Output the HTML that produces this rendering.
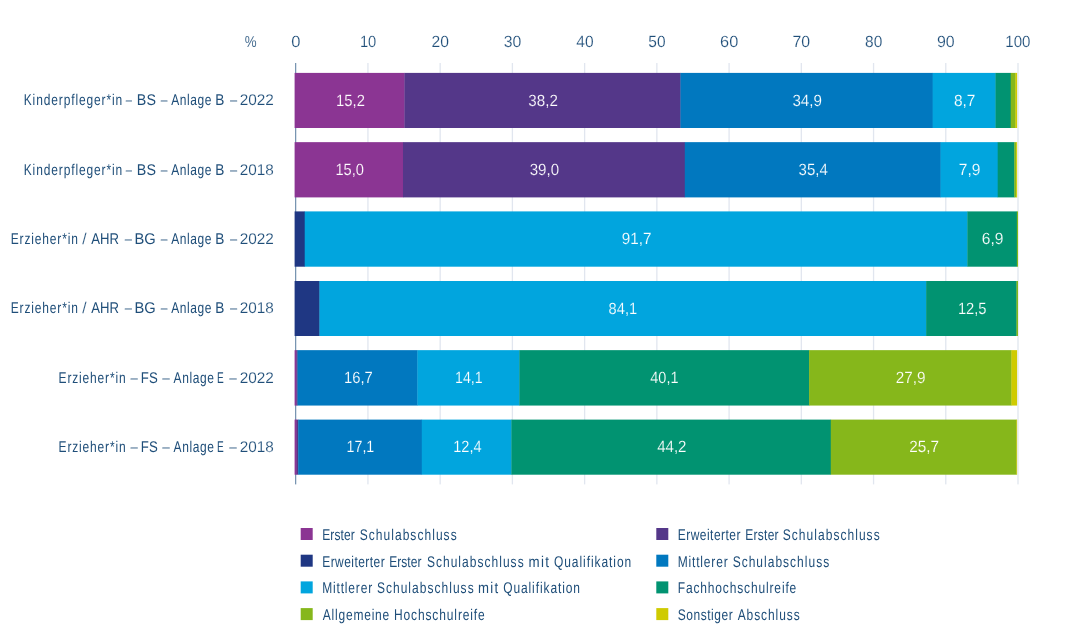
<!DOCTYPE html>
<html><head><meta charset="utf-8"><title>Chart</title>
<style>html,body{margin:0;padding:0;background:#fff;}svg{display:block;opacity:0.999;will-change:transform;font-family:"Liberation Sans",sans-serif;font-size:15px;}</style></head>
<body><svg text-rendering="geometricPrecision" width="1080" height="632" viewBox="0 0 1080 632">
<rect width="1080" height="632" fill="#fff"/>
<rect x="295.05" y="63" width="1.2" height="421.4" fill="#7290ae"/>
<rect x="367.28" y="63" width="1.3" height="421.4" fill="#e1e6ef"/>
<rect x="439.51" y="63" width="1.3" height="421.4" fill="#e1e6ef"/>
<rect x="511.74" y="63" width="1.3" height="421.4" fill="#e1e6ef"/>
<rect x="583.97" y="63" width="1.3" height="421.4" fill="#e1e6ef"/>
<rect x="656.20" y="63" width="1.3" height="421.4" fill="#e1e6ef"/>
<rect x="728.43" y="63" width="1.3" height="421.4" fill="#e1e6ef"/>
<rect x="800.66" y="63" width="1.3" height="421.4" fill="#e1e6ef"/>
<rect x="872.89" y="63" width="1.3" height="421.4" fill="#e1e6ef"/>
<rect x="945.12" y="63" width="1.3" height="421.4" fill="#e1e6ef"/>
<rect x="1017.35" y="63" width="1.3" height="421.4" fill="#e1e6ef"/>
<rect x="294.60" y="72.90" width="110.14" height="55.1" fill="#8b3593"/>
<rect x="404.44" y="72.90" width="276.33" height="55.1" fill="#543789"/>
<rect x="680.47" y="72.90" width="252.49" height="55.1" fill="#0078bf"/>
<rect x="932.66" y="72.90" width="63.17" height="55.1" fill="#00a5de"/>
<rect x="995.52" y="72.90" width="15.47" height="55.1" fill="#009371"/>
<rect x="1010.70" y="72.90" width="5.00" height="55.1" fill="#86b71b"/>
<rect x="1015.39" y="72.90" width="1.71" height="55.1" fill="#cfcb00"/>
<rect x="294.60" y="142.15" width="108.69" height="55.25" fill="#8b3593"/>
<rect x="402.99" y="142.15" width="282.11" height="55.25" fill="#543789"/>
<rect x="684.80" y="142.15" width="256.10" height="55.25" fill="#0078bf"/>
<rect x="940.60" y="142.15" width="57.39" height="55.25" fill="#00a5de"/>
<rect x="997.69" y="142.15" width="16.92" height="55.25" fill="#009371"/>
<rect x="1014.31" y="142.15" width="2.11" height="55.25" fill="#86b71b"/>
<rect x="1016.12" y="142.15" width="0.98" height="55.25" fill="#cfcb00"/>
<rect x="294.60" y="211.40" width="10.42" height="55.3" fill="#1f3783"/>
<rect x="304.72" y="211.40" width="662.92" height="55.3" fill="#00a5de"/>
<rect x="967.34" y="211.40" width="49.80" height="55.3" fill="#009371"/>
<rect x="1016.84" y="211.40" width="1.16" height="55.3" fill="#86b71b"/>
<rect x="294.60" y="281.00" width="25.16" height="55.0" fill="#1f3783"/>
<rect x="319.46" y="281.00" width="606.99" height="55.0" fill="#00a5de"/>
<rect x="926.15" y="281.00" width="90.62" height="55.0" fill="#009371"/>
<rect x="1016.48" y="281.00" width="1.52" height="55.0" fill="#86b71b"/>
<rect x="294.60" y="350.15" width="2.11" height="55.4" fill="#8b3593"/>
<rect x="296.41" y="350.15" width="1.38" height="55.4" fill="#543789"/>
<rect x="297.49" y="350.15" width="120.25" height="55.4" fill="#0078bf"/>
<rect x="417.44" y="350.15" width="102.19" height="55.4" fill="#00a5de"/>
<rect x="519.33" y="350.15" width="290.06" height="55.4" fill="#009371"/>
<rect x="809.09" y="350.15" width="202.63" height="55.4" fill="#86b71b"/>
<rect x="1011.42" y="350.15" width="5.68" height="55.4" fill="#cfcb00"/>
<rect x="294.60" y="419.60" width="2.32" height="55.1" fill="#8b3593"/>
<rect x="296.62" y="419.60" width="1.89" height="55.1" fill="#543789"/>
<rect x="298.21" y="419.60" width="123.86" height="55.1" fill="#0078bf"/>
<rect x="421.78" y="419.60" width="89.90" height="55.1" fill="#00a5de"/>
<rect x="511.38" y="419.60" width="319.69" height="55.1" fill="#009371"/>
<rect x="830.77" y="419.60" width="186.01" height="55.1" fill="#86b71b"/>
<rect x="1016.48" y="419.60" width="0.62" height="55.1" fill="#cfcb00"/>
<text transform="translate(336.09,106.00) scale(0.9866,1.08)" fill="#fff" stroke="#8b3593" stroke-width="0.15">15,2</text>
<text transform="translate(528.30,106.00) scale(1.0120,1.08)" fill="#fff" stroke="#543789" stroke-width="0.15">38,2</text>
<text transform="translate(792.41,106.00) scale(1.0093,1.08)" fill="#fff" stroke="#0078bf" stroke-width="0.15">34,9</text>
<text transform="translate(953.90,106.00) scale(1.0326,1.08)" fill="#fff" stroke="#00a5de" stroke-width="0.15">8,7</text>
<text transform="translate(335.38,175.00) scale(0.9786,1.08)" fill="#fff" stroke="#8b3593" stroke-width="0.15">15,0</text>
<text transform="translate(529.75,175.00) scale(1.0039,1.08)" fill="#fff" stroke="#543789" stroke-width="0.15">39,0</text>
<text transform="translate(798.56,175.00) scale(0.9986,1.08)" fill="#fff" stroke="#0078bf" stroke-width="0.15">35,4</text>
<text transform="translate(958.80,175.00) scale(1.0366,1.08)" fill="#fff" stroke="#00a5de" stroke-width="0.15">7,9</text>
<text transform="translate(621.72,244.00) scale(1.0175,1.08)" fill="#fff" stroke="#00a5de" stroke-width="0.15">91,7</text>
<text transform="translate(981.74,244.00) scale(1.0366,1.08)" fill="#fff" stroke="#009371" stroke-width="0.15">6,9</text>
<text transform="translate(608.60,314.00) scale(0.9762,1.08)" fill="#fff" stroke="#00a5de" stroke-width="0.15">84,1</text>
<text transform="translate(957.89,314.00) scale(0.9812,1.08)" fill="#fff" stroke="#009371" stroke-width="0.15">12,5</text>
<text transform="translate(344.04,383.00) scale(0.9866,1.08)" fill="#fff" stroke="#0078bf" stroke-width="0.15">16,7</text>
<text transform="translate(455.00,383.00) scale(0.9474,1.08)" fill="#fff" stroke="#00a5de" stroke-width="0.15">14,1</text>
<text transform="translate(650.30,383.00) scale(0.9658,1.08)" fill="#fff" stroke="#009371" stroke-width="0.15">40,1</text>
<text transform="translate(895.87,383.00) scale(1.0175,1.08)" fill="#fff" stroke="#86b71b" stroke-width="0.15">27,9</text>
<text transform="translate(346.61,452.00) scale(0.9474,1.08)" fill="#fff" stroke="#0078bf" stroke-width="0.15">17,1</text>
<text transform="translate(453.17,452.00) scale(0.9733,1.08)" fill="#fff" stroke="#00a5de" stroke-width="0.15">12,4</text>
<text transform="translate(657.16,452.00) scale(1.0039,1.08)" fill="#fff" stroke="#009371" stroke-width="0.15">44,2</text>
<text transform="translate(909.24,452.00) scale(1.0202,1.08)" fill="#fff" stroke="#86b71b" stroke-width="0.15">25,7</text>
<text transform="translate(244.87,47.00) scale(0.8890,1.06)" fill="#1f4e79" stroke="#fff" stroke-width="0.15">%</text>
<text transform="translate(291.22,47.00) scale(1.1021,1.08)" fill="#1f4e79" stroke="#fff" stroke-width="0.15">0</text>
<text transform="translate(359.91,47.00) scale(0.9823,1.08)" fill="#1f4e79" stroke="#fff" stroke-width="0.15">10</text>
<text transform="translate(431.51,47.00) scale(1.0429,1.08)" fill="#1f4e79" stroke="#fff" stroke-width="0.15">20</text>
<text transform="translate(503.77,47.00) scale(1.0535,1.08)" fill="#1f4e79" stroke="#fff" stroke-width="0.15">30</text>
<text transform="translate(576.24,47.00) scale(1.0385,1.08)" fill="#1f4e79" stroke="#fff" stroke-width="0.15">40</text>
<text transform="translate(648.36,47.00) scale(1.0329,1.08)" fill="#1f4e79" stroke="#fff" stroke-width="0.15">50</text>
<text transform="translate(720.05,47.00) scale(1.0885,1.08)" fill="#1f4e79" stroke="#fff" stroke-width="0.15">60</text>
<text transform="translate(792.55,47.00) scale(1.0559,1.08)" fill="#1f4e79" stroke="#fff" stroke-width="0.15">70</text>
<text transform="translate(865.05,47.00) scale(1.0329,1.08)" fill="#1f4e79" stroke="#fff" stroke-width="0.15">80</text>
<text transform="translate(936.98,47.00) scale(1.0638,1.08)" fill="#1f4e79" stroke="#fff" stroke-width="0.15">90</text>
<text transform="translate(1005.30,47.00) scale(1.0047,1.08)" fill="#1f4e79" stroke="#fff" stroke-width="0.15">100</text>
<text transform="translate(23.74,105.00) scale(0.8000,1.035)" fill="#1f4e79" letter-spacing="1.092">Kinderpfleger*in</text><text transform="translate(125.73,105.00) scale(0.7489,1.035)" fill="#1f4e79" stroke="#fff" stroke-width="0.15">–</text><text transform="translate(136.86,105.00) scale(0.9516,1.035)" fill="#1f4e79">BS</text><text transform="translate(160.73,105.00) scale(0.8090,1.035)" fill="#1f4e79" stroke="#fff" stroke-width="0.15">–</text><text transform="translate(171.20,105.00) scale(0.8000,1.035)" fill="#1f4e79" letter-spacing="0.725">Anlage</text><text transform="translate(215.31,105.00) scale(0.9097,1.035)" fill="#1f4e79">B</text><text transform="translate(230.03,105.00) scale(0.8571,1.035)" fill="#1f4e79" stroke="#fff" stroke-width="0.15">–</text><text transform="translate(239.66,105.00) scale(1.0270,1.035)" fill="#1f4e79" stroke="#fff" stroke-width="0.15">2022</text>
<text transform="translate(23.74,175.00) scale(0.8000,1.035)" fill="#1f4e79" letter-spacing="1.092">Kinderpfleger*in</text><text transform="translate(125.73,175.00) scale(0.7489,1.035)" fill="#1f4e79" stroke="#fff" stroke-width="0.15">–</text><text transform="translate(136.86,175.00) scale(0.9516,1.035)" fill="#1f4e79">BS</text><text transform="translate(160.73,175.00) scale(0.8090,1.035)" fill="#1f4e79" stroke="#fff" stroke-width="0.15">–</text><text transform="translate(171.20,175.00) scale(0.8000,1.035)" fill="#1f4e79" letter-spacing="0.725">Anlage</text><text transform="translate(215.31,175.00) scale(0.9097,1.035)" fill="#1f4e79">B</text><text transform="translate(230.03,175.00) scale(0.8571,1.035)" fill="#1f4e79" stroke="#fff" stroke-width="0.15">–</text><text transform="translate(239.67,175.00) scale(1.0222,1.035)" fill="#1f4e79" stroke="#fff" stroke-width="0.15">2018</text>
<text transform="translate(10.74,244.00) scale(0.8000,1.035)" fill="#1f4e79" letter-spacing="1.062">Erzieher*in</text><text transform="translate(82.33,244.00) scale(1.0321,1.035)" fill="#1f4e79" stroke="#fff" stroke-width="0.15">/</text><text transform="translate(91.30,244.00) scale(0.8749,1.035)" fill="#1f4e79">AHR</text><text transform="translate(124.63,244.00) scale(0.8691,1.035)" fill="#1f4e79" stroke="#fff" stroke-width="0.15">–</text><text transform="translate(134.52,244.00) scale(0.9819,1.035)" fill="#1f4e79">BG</text><text transform="translate(160.73,244.00) scale(0.8090,1.035)" fill="#1f4e79" stroke="#fff" stroke-width="0.15">–</text><text transform="translate(171.20,244.00) scale(0.8000,1.035)" fill="#1f4e79" letter-spacing="0.725">Anlage</text><text transform="translate(215.31,244.00) scale(0.9097,1.035)" fill="#1f4e79">B</text><text transform="translate(230.03,244.00) scale(0.8571,1.035)" fill="#1f4e79" stroke="#fff" stroke-width="0.15">–</text><text transform="translate(239.66,244.00) scale(1.0270,1.035)" fill="#1f4e79" stroke="#fff" stroke-width="0.15">2022</text>
<text transform="translate(10.74,313.00) scale(0.8000,1.035)" fill="#1f4e79" letter-spacing="1.062">Erzieher*in</text><text transform="translate(82.33,313.00) scale(1.0321,1.035)" fill="#1f4e79" stroke="#fff" stroke-width="0.15">/</text><text transform="translate(91.30,313.00) scale(0.8749,1.035)" fill="#1f4e79">AHR</text><text transform="translate(124.63,313.00) scale(0.8691,1.035)" fill="#1f4e79" stroke="#fff" stroke-width="0.15">–</text><text transform="translate(134.52,313.00) scale(0.9819,1.035)" fill="#1f4e79">BG</text><text transform="translate(160.73,313.00) scale(0.8090,1.035)" fill="#1f4e79" stroke="#fff" stroke-width="0.15">–</text><text transform="translate(171.20,313.00) scale(0.8000,1.035)" fill="#1f4e79" letter-spacing="0.725">Anlage</text><text transform="translate(215.31,313.00) scale(0.9097,1.035)" fill="#1f4e79">B</text><text transform="translate(230.03,313.00) scale(0.8571,1.035)" fill="#1f4e79" stroke="#fff" stroke-width="0.15">–</text><text transform="translate(239.67,313.00) scale(1.0222,1.035)" fill="#1f4e79" stroke="#fff" stroke-width="0.15">2018</text>
<text transform="translate(58.54,383.00) scale(0.8000,1.035)" fill="#1f4e79" letter-spacing="1.050">Erzieher*in</text><text transform="translate(130.53,383.00) scale(0.8811,1.035)" fill="#1f4e79" stroke="#fff" stroke-width="0.15">–</text><text transform="translate(140.84,383.00) scale(0.8812,1.035)" fill="#1f4e79">FS</text><text transform="translate(162.23,383.00) scale(0.9051,1.035)" fill="#1f4e79" stroke="#fff" stroke-width="0.15">–</text><text transform="translate(173.60,383.00) scale(0.8000,1.035)" fill="#1f4e79" letter-spacing="0.750">Anlage</text><text transform="translate(217.09,383.00) scale(0.6728,1.035)" fill="#1f4e79">E</text><text transform="translate(229.33,383.00) scale(0.9051,1.035)" fill="#1f4e79" stroke="#fff" stroke-width="0.15">–</text><text transform="translate(239.66,383.00) scale(1.0270,1.035)" fill="#1f4e79" stroke="#fff" stroke-width="0.15">2022</text>
<text transform="translate(58.54,452.00) scale(0.8000,1.035)" fill="#1f4e79" letter-spacing="1.050">Erzieher*in</text><text transform="translate(130.53,452.00) scale(0.8811,1.035)" fill="#1f4e79" stroke="#fff" stroke-width="0.15">–</text><text transform="translate(140.84,452.00) scale(0.8812,1.035)" fill="#1f4e79">FS</text><text transform="translate(162.23,452.00) scale(0.9051,1.035)" fill="#1f4e79" stroke="#fff" stroke-width="0.15">–</text><text transform="translate(173.60,452.00) scale(0.8000,1.035)" fill="#1f4e79" letter-spacing="0.750">Anlage</text><text transform="translate(217.09,452.00) scale(0.6728,1.035)" fill="#1f4e79">E</text><text transform="translate(229.33,452.00) scale(0.9051,1.035)" fill="#1f4e79" stroke="#fff" stroke-width="0.15">–</text><text transform="translate(239.67,452.00) scale(1.0222,1.035)" fill="#1f4e79" stroke="#fff" stroke-width="0.15">2018</text>
<rect x="300.7" y="528.00" width="12.0" height="12.0" fill="#8b3593"/>
<text transform="translate(322.24,540.00) scale(0.8000,1.035)" fill="#1f4e79" letter-spacing="0.100">Erster</text><text transform="translate(359.66,540.00) scale(0.8000,1.035)" fill="#1f4e79" letter-spacing="1.309">Schulabschluss</text>
<rect x="300.7" y="554.70" width="12.0" height="12.0" fill="#1f3783"/>
<text transform="translate(322.24,567.00) scale(0.8000,1.035)" fill="#1f4e79" letter-spacing="0.553">Erweiterter</text><text transform="translate(389.24,567.00) scale(0.8000,1.035)" fill="#1f4e79" letter-spacing="0.038">Erster</text><text transform="translate(426.91,567.00) scale(0.8000,1.035)" fill="#1f4e79" letter-spacing="1.285">Schulabschluss</text><text transform="translate(528.58,567.00) scale(0.8894,1.035)" fill="#1f4e79" letter-spacing="1.400">mit</text><text transform="translate(553.91,567.00) scale(0.8000,1.035)" fill="#1f4e79" letter-spacing="1.178">Qualifikation</text>
<rect x="300.7" y="581.40" width="12.0" height="12.0" fill="#00a5de"/>
<text transform="translate(322.24,593.00) scale(0.8000,1.035)" fill="#1f4e79" letter-spacing="1.025">Mittlerer</text><text transform="translate(376.91,593.00) scale(0.8000,1.035)" fill="#1f4e79" letter-spacing="1.285">Schulabschluss</text><text transform="translate(478.09,593.00) scale(0.8779,1.035)" fill="#1f4e79" letter-spacing="1.400">mit</text><text transform="translate(503.16,593.00) scale(0.8000,1.035)" fill="#1f4e79" letter-spacing="1.126">Qualifikation</text>
<rect x="300.7" y="608.10" width="12.0" height="12.0" fill="#86b71b"/>
<text transform="translate(322.70,620.00) scale(0.8000,1.035)" fill="#1f4e79" letter-spacing="0.999">Allgemeine</text><text transform="translate(393.99,620.00) scale(0.8000,1.035)" fill="#1f4e79" letter-spacing="1.092">Hochschulreife</text>
<rect x="656.3" y="528.00" width="12.0" height="12.0" fill="#543789"/>
<text transform="translate(677.74,540.00) scale(0.8000,1.035)" fill="#1f4e79" letter-spacing="0.590">Erweiterter</text><text transform="translate(745.34,540.00) scale(0.8000,1.035)" fill="#1f4e79" letter-spacing="0.300">Erster</text><text transform="translate(782.76,540.00) scale(0.8000,1.035)" fill="#1f4e79" letter-spacing="1.299">Schulabschluss</text>
<rect x="656.3" y="554.70" width="12.0" height="12.0" fill="#0078bf"/>
<text transform="translate(677.74,567.00) scale(0.8000,1.035)" fill="#1f4e79" letter-spacing="1.025">Mittlerer</text><text transform="translate(732.66,567.00) scale(0.8000,1.035)" fill="#1f4e79" letter-spacing="1.261">Schulabschluss</text>
<rect x="656.3" y="581.40" width="12.0" height="12.0" fill="#009371"/>
<text transform="translate(677.74,593.00) scale(0.8000,1.035)" fill="#1f4e79" letter-spacing="1.063">Fachhochschulreife</text>
<rect x="656.3" y="608.10" width="12.0" height="12.0" fill="#cfcb00"/>
<text transform="translate(677.66,620.00) scale(0.8000,1.035)" fill="#1f4e79" letter-spacing="0.675">Sonstiger</text><text transform="translate(737.70,620.00) scale(0.8000,1.035)" fill="#1f4e79" letter-spacing="1.133">Abschluss</text>
</svg></body></html>
